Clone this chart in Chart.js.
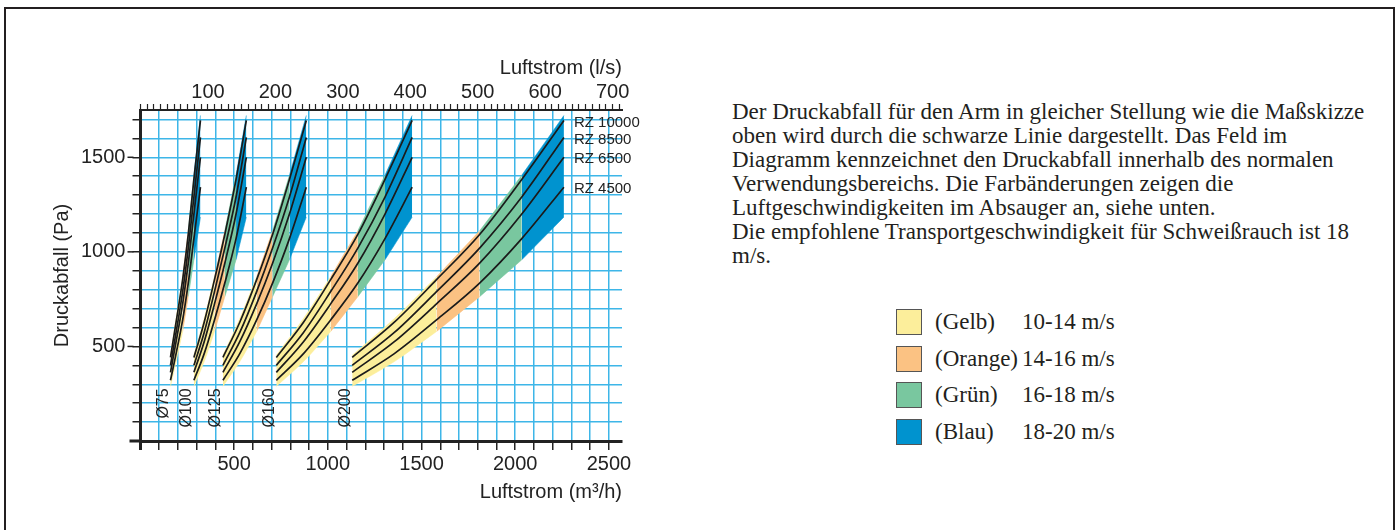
<!DOCTYPE html>
<html>
<head>
<meta charset="utf-8">
<script src="https://cdn.jsdelivr.net/npm/chart.js@4.4.0/dist/chart.umd.min.js"></script>
<style>
  html, body { margin: 0; padding: 0; background: #fff; }
  body { width: 1399px; height: 530px; position: relative; overflow: hidden; }
  #frame { position: absolute; left: 4px; top: 7px; width: 1387px; height: 600px; border: 2px solid #231f20; }
  #chart { position: absolute; left: 0; top: 0; }
  .serif { font-family: "Liberation Serif", "Times New Roman", serif; font-size: 23px; color: #231f20; white-space: nowrap; }
  #info { position: absolute; left: 732px; top: 100px; line-height: 24px; }
  .row { position: absolute; height: 26px; line-height: 26px; }
  .swatch { position: absolute; left: 896px; width: 24px; height: 24px; border: 1.5px solid #555; }
</style>
</head>
<body>
<div id="frame"></div>
<canvas id="chart" width="700" height="530"></canvas>
<div id="info" class="serif">
Der Druckabfall für den Arm in gleicher Stellung wie die Maßskizze<br>
oben wird durch die schwarze Linie dargestellt. Das Feld im<br>
Diagramm kennzeichnet den Druckabfall innerhalb des normalen<br>
Verwendungsbereichs. Die Farbänderungen zeigen die<br>
Luftgeschwindigkeiten im Absauger an, siehe unten.<br>
Die empfohlene Transportgeschwindigkeit für Schweißrauch ist 18<br>
m/s.
</div>
<div id="legend"></div>
<script>
"use strict";

// Luftgeschwindigkeit (m/s) at the points
const speeds = [10, 12, 14, 16, 18, 20];

// Luftstrom (m3/h) at those speeds, one list per diameter
const diameters = ['Ø75', 'Ø100', 'Ø125', 'Ø160', 'Ø200'];
const flowD75 = [160, 190, 225, 255, 285, 320];
const flowD100 = [285, 340, 395, 450, 510, 565];
const flowD125 = [440, 530, 620, 705, 795, 885];
const flowD160 = [725, 870, 1015, 1160, 1305, 1450];
const flowD200 = [1130, 1355, 1580, 1810, 2035, 2260];

// Druckabfall (Pa) at those speeds
const bandTop = [453, 647, 868, 1111, 1405, 1721];
const rz10000 = [442, 628, 853, 1092, 1383, 1695];
const rz8500 = [400, 574, 790, 1020, 1290, 1605];
const rz6500 = [363, 525, 725, 940, 1200, 1500];
const rz4500 = [321, 462, 640, 835, 1070, 1342];
const bandBottom = [289, 420, 579, 763, 958, 1184];
const rzNames = ['RZ 10000', 'RZ 8500', 'RZ 6500', 'RZ 4500'];

// colour bands
const bandNames = ['(Gelb)', '(Orange)', '(Grün)', '(Blau)'];
const bandRanges = ['10-14 m/s', '14-16 m/s', '16-18 m/s', '18-20 m/s'];
const bandFrom = [10, 14, 16, 18];
const bandTo = [14, 16, 18, 20];
const bandColors = ['#fcee9b', '#fbc283', '#79c79f', '#0093cf'];

// axes
const flowMax = 2570;
const paMax = 1750;
const m3hPerLs = 3.6;

const flows = [flowD75, flowD100, flowD125, flowD160, flowD200];
const rzCurves = [rz10000, rz8500, rz6500, rz4500];
const gridColor = '#3db6e8';
const ink = '#222';

function points(flow, pa, from, to) {
    var pts = [];
    for (var i = from; i <= to; i++) {
        pts.push({ x: flow[i], y: pa[i] });
    }
    return pts;
}

var datasets = [];
flows.forEach(function (flow) {
    bandColors.forEach(function (color, k) {
        var from = speeds.indexOf(bandFrom[k]);
        var to = speeds.indexOf(bandTo[k]);
        datasets.push({
            data: points(flow, bandTop, from, to), fill: '+1', backgroundColor: color,
            borderColor: color, borderWidth: 0.6, pointRadius: 0, cubicInterpolationMode: 'monotone', order: 1
        });
        datasets.push({
            data: points(flow, bandBottom, from, to), fill: false, backgroundColor: color,
            borderColor: color, borderWidth: 0.6, pointRadius: 0, cubicInterpolationMode: 'monotone', order: 1
        });
    });
    rzCurves.forEach(function (pa) {
        datasets.push({
            data: points(flow, pa, 0, speeds.length - 1), fill: false, borderColor: '#1b1b1b',
            borderWidth: 1.7, pointRadius: 0, cubicInterpolationMode: 'monotone', order: 0
        });
    });
});

// diameter labels, RZ labels and the longer major ticks
var annotate = {
    id: 'annotate',
    afterDraw: function (chart) {
        var ctx = chart.ctx;
        var x = chart.scales.x, y = chart.scales.y;
        var area = chart.chartArea;
        ctx.save();
        ctx.fillStyle = ink;
        ctx.font = '16px "Liberation Sans", Arial, sans-serif';
        ctx.textAlign = 'right';
        ctx.textBaseline = 'bottom';
        flows.forEach(function (flow, i) {
            ctx.save();
            ctx.translate(x.getPixelForValue(flow[0]) + 1, y.getPixelForValue(bandBottom[0]) + 2);
            ctx.rotate(-Math.PI / 2);
            ctx.fillText(diameters[i], 0, 0);
            ctx.restore();
        });

        ctx.font = '15px "Liberation Sans", Arial, sans-serif';
        ctx.textAlign = 'left';
        ctx.textBaseline = 'middle';
        rzCurves.forEach(function (pa, i) {
            ctx.fillText(rzNames[i], x.getPixelForValue(flowD200[flowD200.length - 1]) + 10,
                y.getPixelForValue(pa[pa.length - 1]) + 2);
        });

        ctx.strokeStyle = ink;
        ctx.lineWidth = 1.5;
        [500, 1000, 1500].forEach(function (v) {
            var py = y.getPixelForValue(v);
            ctx.beginPath();
            ctx.moveTo(area.left - 13, py);
            ctx.lineTo(area.left - 7, py);
            ctx.stroke();
        });
        // axis lines run a little past the origin
        ctx.lineWidth = 3;
        ctx.beginPath();
        ctx.moveTo(area.left - 11, area.bottom);
        ctx.lineTo(area.left, area.bottom);
        ctx.moveTo(area.left, area.bottom);
        ctx.lineTo(area.left, area.bottom + 9);
        ctx.stroke();
        ctx.restore();
    }
};

Chart.defaults.font.family = '"Liberation Sans", Arial, sans-serif';
Chart.defaults.font.size = 20;
Chart.defaults.color = ink;

new Chart(document.getElementById('chart'), {
    type: 'line',
    data: { datasets: datasets },
    options: {
        responsive: false,
        animation: false,
        devicePixelRatio: 1,
        events: [],
        layout: { padding: { left: 47, top: 52, right: 78, bottom: 22 } },
        plugins: { legend: { display: false }, tooltip: { enabled: false } },
        scales: {
            x: {
                type: 'linear', position: 'bottom', min: 0, max: flowMax,
                grid: { color: gridColor, lineWidth: 1.5, tickColor: ink, tickWidth: 1.5, tickLength: 9 },
                border: { color: ink, width: 3, z: 1 },
                ticks: {
                    stepSize: 100, autoSkip: false, maxRotation: 0, minRotation: 0, includeBounds: false, padding: 2,
                    callback: function (v) { return v > 0 && v % 500 === 0 ? v : ''; }
                },
                title: { display: true, text: 'Luftstrom (m³/h)', align: 'end', padding: { top: 2, bottom: 4 } }
            },
            x2: {
                type: 'linear', position: 'top', min: 0, max: flowMax / m3hPerLs,
                grid: { drawOnChartArea: false, tickColor: ink, tickWidth: 1.2, tickLength: 6 },
                border: { color: ink, width: 2, z: 1 },
                ticks: {
                    stepSize: 10, autoSkip: false, maxRotation: 0, minRotation: 0, includeBounds: false, padding: 0,
                    callback: function (v) { return v > 0 && v % 100 === 0 ? v : ''; }
                },
                title: { display: true, text: 'Luftstrom (l/s)', align: 'end', padding: { top: 4, bottom: 0 } }
            },
            y: {
                type: 'linear', position: 'left', min: 0, max: paMax,
                grid: { color: gridColor, lineWidth: 1.5, tickColor: ink, tickWidth: 1.5, tickLength: 8 },
                border: { color: ink, width: 3, z: 1 },
                ticks: {
                    stepSize: 100, autoSkip: false, includeBounds: false, padding: 7,
                    callback: function (v) { return v > 0 && v % 500 === 0 ? v : ''; }
                },
                title: { display: true, text: 'Druckabfall (Pa)', padding: { top: 3, bottom: 0 } }
            }
        }
    },
    plugins: [annotate]
});

// legend on the right
var legend = document.getElementById('legend');
bandNames.forEach(function (name, k) {
    var mid = 322 + k * 36.5;
    var sw = document.createElement('div');
    sw.className = 'swatch';
    sw.style.top = (mid - 13) + 'px';
    sw.style.background = bandColors[k];
    legend.appendChild(sw);
    var t1 = document.createElement('div');
    t1.className = 'row serif';
    t1.style.left = '935px';
    t1.style.top = (mid - 13) + 'px';
    t1.textContent = name;
    legend.appendChild(t1);
    var t2 = document.createElement('div');
    t2.className = 'row serif';
    t2.style.left = '1022px';
    t2.style.top = (mid - 13) + 'px';
    t2.textContent = bandRanges[k];
    legend.appendChild(t2);
});
</script>
</body>
</html>
